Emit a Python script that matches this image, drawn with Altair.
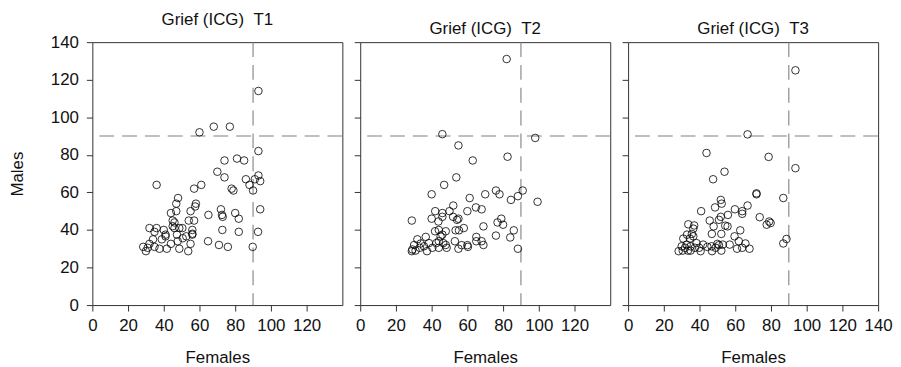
import altair as alt
import pandas as pd

# ---- data ----
t1_females = [93, 68, 77, 60, 93, 74, 81, 85, 70, 74, 86, 93, 91, 94, 88, 90, 78, 79, 36, 61,
              57, 48, 47, 58, 57.6, 44, 47, 55, 72, 72.6, 73, 80, 82, 65, 94, 45, 46, 54, 57, 32,
              36, 40, 45, 46, 48.7, 50.4, 56, 56, 72.8, 82, 92.8, 34.8, 41, 47.4, 52.6, 56, 34, 38.9, 32, 28.5,
              31, 34.8, 37.6, 41.7, 44, 48.7, 53.7, 55, 30, 64.8, 70.9, 75.9, 89.8, 50.6, 41, 47.8]
t1_males = [114, 95, 95, 92, 82, 77, 78, 77, 71, 68, 67, 69, 67, 66, 64, 61, 62, 61, 64, 64,
            62, 57, 54, 54, 52.5, 49, 50, 50, 51, 48, 47, 49, 46, 48, 51, 45, 44, 45, 45, 41,
            41, 40, 42, 41, 41, 41, 40, 38, 40, 39, 39, 39, 37.5, 37.5, 36.6, 37.5, 35, 35, 32.6, 31,
            30.5, 31, 30, 30, 32.6, 30, 28.7, 32.6, 28.7, 34, 32, 31, 31, 35.6, 36.6, 34]

t2_females = [82, 46, 98, 55, 63, 82.5, 53.8, 47, 40, 61.3, 70, 76, 78, 84.4, 88.3, 91, 99.3, 52.1, 42, 46,
              50, 60, 64.8, 68, 40, 43.8, 46, 52, 54.2, 55, 79, 76.9, 80, 28.9, 58, 53.4, 55.3, 69, 86, 41.9,
              44, 47.9, 46, 45, 36.7, 32, 33.9, 38.5, 42.6, 44, 47.9, 48.4, 53, 65, 65, 68, 69, 76, 84, 56.8,
              60, 60.3, 55, 88.3, 30.2, 29.2, 31, 28.9, 37.4, 33.3, 35.7, 40.4, 46.5, 44]
t2_males = [131, 91, 89, 85, 77, 79, 68, 64, 59, 57, 59, 61, 59, 56, 58, 61, 55, 53, 50, 49,
            50, 50, 52, 51, 46, 44.5, 47, 47, 45.4, 46, 46, 44, 42.8, 45, 41, 39.8, 39.8, 41.9, 39.8, 39.3,
            40, 39.3, 37.5, 36.6, 36.3, 35, 32.8, 33, 33, 34, 32, 30.5, 34, 36.3, 34, 34, 32, 37, 36, 31.9,
            31.9, 31, 30, 30, 32, 29.6, 29, 28.7, 28.7, 30.5, 31.3, 30.5, 33, 30.5]

t3_females = [93.7, 66.9, 43.9, 78.7, 93.7, 54, 47.6, 71.9, 71.9, 86.9, 51.9, 52.4, 48.7, 40.9, 59.8, 63.9, 63.9, 66.9, 51.9, 55.9,
              73.7, 45.7, 50.9, 79, 79.8, 77.6, 33.7, 37, 47.9, 54.4, 55.7, 62.8, 46.9, 36.5, 52.2, 59.6, 88.7, 86.9, 30.9, 34.6,
              36.5, 38.3, 32.8, 42, 46.7, 50.9, 53, 56.9, 62, 65.7, 63.9, 61, 68, 52.2, 47, 40.6, 35, 28.3, 30.6, 31.9,
              35, 37.4, 30, 39.8, 44.4, 49, 50, 33, 35.7, 33.5]
t3_males = [125, 90.9, 81, 78.9, 72.9, 71, 67, 59.5, 59, 57, 56, 54, 52, 50, 51, 50, 48.6, 53, 47, 48,
            46.8, 45, 45.4, 44.5, 43.7, 42.8, 43, 42.4, 41.9, 42.3, 41.9, 39.8, 37.9, 40.7, 37.9, 36.6, 35.2, 32.8, 35.4, 35.4,
            36.6, 33, 32.2, 32.2, 31.3, 31.9, 32.2, 32.2, 34, 32.8, 30.5, 30, 30, 29, 28.7, 28.7, 29, 28.7, 29, 30.5,
            31.3, 30.5, 31.3, 30.5, 31, 30.5, 32.6, 37.5, 37.9, 29]

panel_titles = ["Grief (ICG)\u00a0\u00a0T1", "Grief (ICG)\u00a0\u00a0T2", "Grief (ICG)\u00a0\u00a0T3"]
x_ticks_short = [0, 20, 40, 60, 80, 100, 120]
x_ticks_full = [0, 20, 40, 60, 80, 100, 120, 140]
y_ticks = [0, 20, 40, 60, 80, 100, 120, 140]
cutoff = [90]

AXIS_FONT = "Liberation Sans"


def panel(fem, mal, title, show_y, x_ticks):
    df = pd.DataFrame({"Females": fem, "Males": mal})
    ref = pd.DataFrame({"v": cutoff})
    xs = alt.Scale(domain=[0, 140], nice=False, zero=False)
    ys = alt.Scale(domain=[0, 140], nice=False, zero=False)
    xaxis = alt.Axis(values=x_ticks, title="Females", grid=False, domain=False,
                     tickSize=6, labelPadding=7, titlePadding=16, labelOverlap=False,
                     labelFlush=False)
    if show_y:
        yaxis = alt.Axis(values=y_ticks, title="Males", grid=False, domain=False,
                         tickSize=6, labelPadding=8, titlePadding=24, labelOverlap=False,
                         labelFlush=False)
    else:
        yaxis = alt.Axis(values=y_ticks, title="", labels=False, grid=False,
                         domain=False, tickSize=6)
    pts = alt.Chart(df).mark_point(shape="circle", filled=False, color="black",
                                   size=58, strokeWidth=0.8, opacity=1).encode(
        x=alt.X("Females:Q", scale=xs, axis=xaxis),
        y=alt.Y("Males:Q", scale=ys, axis=yaxis),
    )
    hline = alt.Chart(ref).mark_rule(color="#808080", strokeWidth=1.1,
                                     strokeDash=[15, 8]).encode(y=alt.Y("v:Q", scale=ys, axis=yaxis))
    vline = alt.Chart(ref).mark_rule(color="#808080", strokeWidth=1.1,
                                     strokeDash=[15, 8]).encode(x=alt.X("v:Q", scale=xs, axis=xaxis))
    return alt.layer(hline, vline, pts).properties(title=title, width=252, height=265)


p1 = panel(t1_females, t1_males, panel_titles[0], True, x_ticks_short)
p2 = panel(t2_females, t2_males, panel_titles[1], False, x_ticks_short)
p3 = panel(t3_females, t3_males, panel_titles[2], False, x_ticks_full)

chart = alt.hconcat(p1, p2, p3, spacing=9).properties(
    padding={"left": 0, "top": 1, "right": 0, "bottom": 0}
).configure_view(
    stroke="#333333", strokeWidth=1
).configure_axis(
    labelFont=AXIS_FONT, labelFontSize=17, labelColor="#111111",
    titleFont=AXIS_FONT, titleFontSize=17, titleFontWeight="normal", titleColor="#111111",
    tickColor="#333333", tickWidth=1,
).configure_title(
    font="Liberation Sans", fontSize=17, fontWeight="normal", color="#111111",
    anchor="middle", offset=0
)

chart.save("out.html", embed_options={"renderer": "svg", "actions": False})
